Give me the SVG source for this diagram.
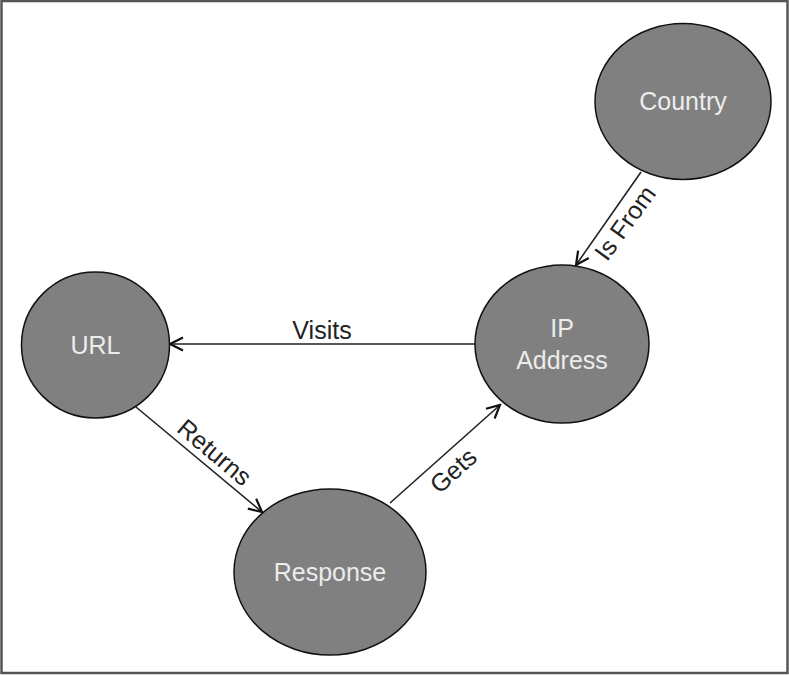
<svg xmlns="http://www.w3.org/2000/svg" width="789" height="675" viewBox="0 0 789 675">
<defs>
<marker id="arr" viewBox="0 0 16 16" refX="14.5" refY="8" markerWidth="16" markerHeight="16" markerUnits="userSpaceOnUse" orient="auto">
<path d="M1.5,1.5 L14.5,8 L1.5,14.5" fill="none" stroke="#111" stroke-width="2.2"/>
</marker>
<style>
.node{fill:#808080;stroke:#111;stroke-width:1.5}
.nt{font-family:"Liberation Sans",Arial,sans-serif;font-size:25px;fill:#ececec;text-anchor:middle}
.edge{stroke:#222;stroke-width:1.6;fill:none;marker-end:url(#arr)}
.el{font-family:"Liberation Sans",Arial,sans-serif;font-size:25px;fill:#222;text-anchor:middle}
</style>
</defs>
<rect x="1.5" y="1" width="786" height="672" fill="#fff" stroke="#555" stroke-width="2.5"/>
<g id="connectors">
<line class="edge" x1="641" y1="172" x2="576" y2="265"/>
<line class="edge" x1="475" y1="344" x2="170" y2="344"/>
<line class="edge" x1="136" y1="407" x2="262" y2="512"/>
<line class="edge" x1="390" y1="503" x2="500" y2="405"/>
<text class="el" transform="translate(632,228) rotate(-54)">Is From</text>
<text class="el" x="322" y="339">Visits</text>
<text class="el" transform="translate(209,459) rotate(40)">Returns</text>
<text class="el" transform="translate(459,477) rotate(-42)">Gets</text>
</g>
<g id="country">
<ellipse class="node" cx="683" cy="101.5" rx="88" ry="78"/>
<text class="nt" x="683" y="110">Country</text>
</g>
<g id="ip">
<ellipse class="node" cx="562" cy="344" rx="87" ry="79"/>
<text class="nt" x="562" y="337">IP</text>
<text class="nt" x="562" y="369">Address</text>
</g>
<g id="url">
<ellipse class="node" cx="95.5" cy="345" rx="74" ry="73"/>
<text class="nt" x="95.5" y="354">URL</text>
</g>
<g id="response">
<ellipse class="node" cx="330" cy="572" rx="96" ry="83"/>
<text class="nt" x="330" y="581">Response</text>
</g>
</svg>
